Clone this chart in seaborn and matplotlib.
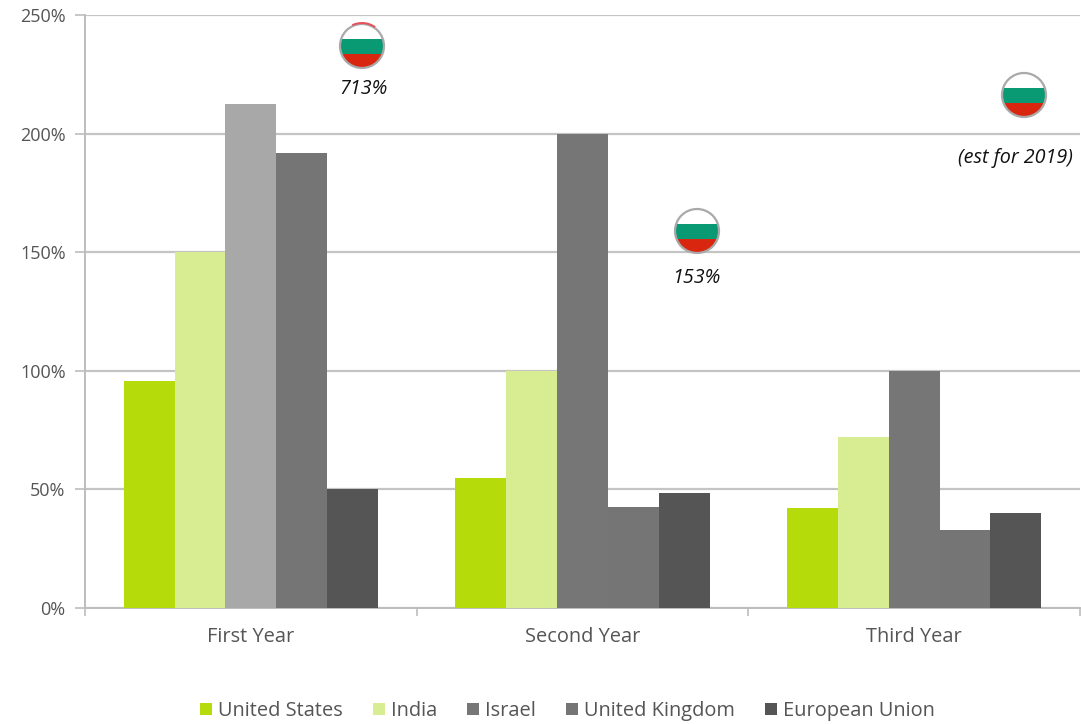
import pandas as pd
import matplotlib.pyplot as plt
import seaborn as sns
from matplotlib.patches import Circle, Rectangle, Arc

years = ["First Year", "Second Year", "Third Year"]
countries = ["United States", "India", "Israel", "United Kingdom", "European Union"]
us = [95.7, 54.8, 42]
india = [150, 100, 72]
israel = [212.5, 200, 100]
uk = [192, 42.5, 33]
eu = [50, 48.5, 40]
colors = ["#b5dc0a", "#d8ec92", "#767676", "#757575", "#555555"]
flag_notes = ["713%", "153%", "(est for 2019)"]

rows = []
for name, vals in zip(countries, [us, india, israel, uk, eu]):
    for y, v in zip(years, vals):
        rows.append({"year": y, "country": name, "value": v})
df = pd.DataFrame(rows)

sns.set_theme(style="white")
plt.rcParams["font.family"] = ["Open Sans", "DejaVu Sans"]

W, H = 1081, 724
fig = plt.figure(figsize=(W / 100, H / 100), dpi=100)
ax = fig.add_axes([85 / W, 1 - 608 / H, (1080 - 85) / W, (608 - 15) / H])

sns.barplot(data=df, x="year", y="value", hue="country", palette=colors,
            width=0.767, saturation=1, gap=0, linewidth=0, ax=ax, zorder=3)
# first year Israel bar is lighter in the source image
ax.containers[2][0].set_facecolor("#a8a8a8")

ax.set_xlim(-0.5, 2.5)
ax.set_ylim(0, 250)
ax.set_yticks([0, 50, 100, 150, 200, 250])
ax.set_yticklabels([f"{t}%" for t in [0, 50, 100, 150, 200, 250]])
ax.set_xlabel("")
ax.set_ylabel("")
ax.yaxis.grid(True, color="#c4c4c4", linewidth=1.6)
ax.xaxis.grid(False)
ax.set_axisbelow(True)
for s in ["top", "right"]:
    ax.spines[s].set_visible(False)
for s in ["left", "bottom"]:
    ax.spines[s].set_color("#bdbdbd")
    ax.spines[s].set_linewidth(1.4)

ax.set_xticks([-0.5, 0.5, 1.5, 2.5], minor=True)
ax.tick_params(axis="x", which="minor", length=6, color="#bdbdbd", width=1.2, bottom=True)
ax.tick_params(axis="x", which="major", length=0, pad=14, labelsize=14.4, labelcolor="#555555")
ax.tick_params(axis="y", length=7, color="#bdbdbd", width=1.2, left=True, pad=7,
               labelsize=13, labelcolor="#555555")

handles, labels = ax.get_legend_handles_labels()
ax.legend(handles, labels, ncol=5, frameon=False, loc="center",
          bbox_to_anchor=(567.5 / W, 1 - 711 / H), bbox_transform=fig.transFigure,
          fontsize=14.4, labelcolor="#555555", handlelength=0.6, handleheight=0.6,
          handletextpad=0.3, columnspacing=1.5)

# pixel overlay for the flag badges
ov = fig.add_axes([0, 0, 1, 1], facecolor="none")
ov.set_xlim(0, W)
ov.set_ylim(H, 0)
ov.axis("off")


def flag(cx, cy, r=22, red_arc=False):
    clip = Circle((cx, cy), r, transform=ov.transData)
    for top, bottom, c in [(cy - r, cy - 7, "white"), (cy - 7, cy + 7.5, "#0a9a73"),
                           (cy + 7.5, cy + r, "#d9270f")]:
        band = Rectangle((cx - r, top), 2 * r, bottom - top, color=c, lw=0, zorder=5)
        ov.add_patch(band)
        band.set_clip_path(clip)
    ov.add_patch(Circle((cx, cy), r, fill=False, ec="#a9a9a9", lw=1.6, zorder=6))
    if red_arc:
        ov.add_patch(Arc((cx, cy), 2 * r + 2, 2 * r + 2, theta1=245, theta2=305,
                         color="#e8505b", lw=1.4, zorder=7))


flag(362, 46, red_arc=True)
flag(697, 231)
flag(1024, 95)

for (x, y), note in zip([(364, 89), (696, 278), (1015, 158)], flag_notes):
    ov.text(x, y, note, ha="center", va="center", style="italic", fontsize=14.2, color="#111111")

fig.savefig("out.png", dpi=100, facecolor="white")
plt.close(fig)
